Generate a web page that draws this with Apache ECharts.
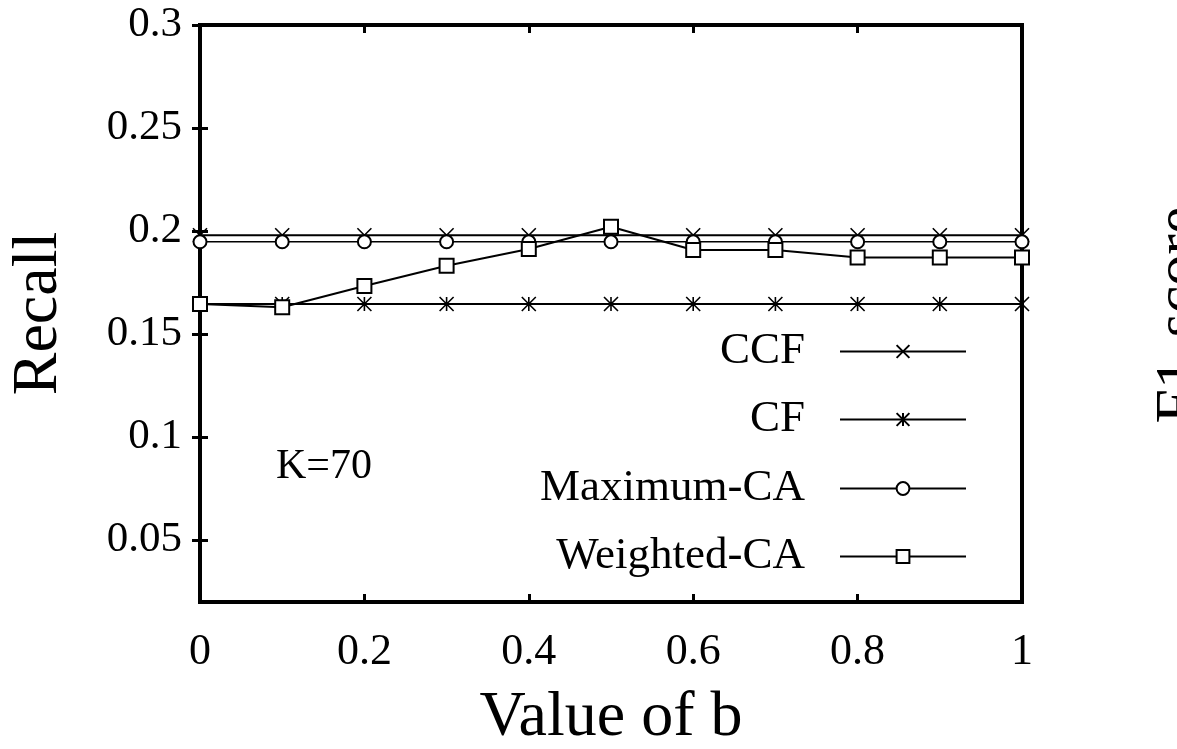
<!DOCTYPE html>
<html>
<head>
<meta charset="utf-8">
<script src="https://cdn.jsdelivr.net/npm/echarts@6/dist/echarts.min.js"></script>
<style>
  html, body { margin: 0; padding: 0; background: #fff; }
  #chart { width: 1177px; height: 749px; }
</style>
</head>
<body>
<div id="chart"></div>
<script>
// values
const bValues = [0, 0.1, 0.2, 0.3, 0.4, 0.5, 0.6, 0.7, 0.8, 0.9, 1];
const ccfRecall = [0.198, 0.198, 0.198, 0.198, 0.198, 0.198, 0.198, 0.198, 0.198, 0.198, 0.198];
const cfRecall = [0.1646, 0.1646, 0.1646, 0.1646, 0.1646, 0.1646, 0.1646, 0.1646, 0.1646, 0.1646, 0.1646];
const maxCaRecall = [0.1948, 0.1948, 0.1948, 0.1948, 0.1948, 0.1948, 0.1948, 0.1948, 0.1948, 0.1948, 0.1948];
const weightedCaRecall = [0.1646, 0.163, 0.1733, 0.1832, 0.1913, 0.2021, 0.1908, 0.1908, 0.1872, 0.1872, 0.1872];
const yTicks = [0.05, 0.1, 0.15, 0.2, 0.25, 0.3];
const xTicks = [0, 0.2, 0.4, 0.6, 0.8, 1];
const seriesNames = ['CCF', 'CF', 'Maximum-CA', 'Weighted-CA'];

const FONT = 'Liberation Serif';
const crossPath = 'path://M0,0L10,10M10,0L0,10';
const starPath = 'path://M0,0L10,10M10,0L0,10M5,0L5,10';

function pairs(ys) {
  return bValues.map((b, i) => [b, ys[i]]);
}

function lineSeries(name, ys, symbol, size, width) {
  return {
    name: name,
    type: 'line',
    data: pairs(ys),
    symbol: symbol,
    symbolSize: size,
    showSymbol: true,
    animation: false,
    lineStyle: { color: '#000', width: width },
    itemStyle: { color: '#000', borderColor: '#000', borderWidth: 1.6 },
    emphasis: { disabled: true }
  };
}

function legendFor(name, top) {
  return {
    data: [name],
    right: 205,
    top: top,
    align: 'right',
    itemWidth: 126,
    itemHeight: 16,
    selectedMode: false,
    textStyle: { fontFamily: FONT, fontSize: 45, color: '#000', padding: [0, 30, 0, 0] }
  };
}

const chart = echarts.init(document.getElementById('chart'));

const yBase = {
  type: 'value',
  min: 0.02,
  max: 0.3,
  splitLine: { show: false },
  axisLine: { show: false }
};
const xBase = {
  type: 'value',
  min: 0,
  max: 1,
  splitLine: { show: false },
  axisLine: { show: false }
};

chart.setOption({
  backgroundColor: '#fff',
  grid: {
    left: 200, right: 155, top: 25, bottom: 147,
    outerBoundsMode: 'none',
    show: true, borderColor: '#000', borderWidth: 4, backgroundColor: 'transparent'
  },
  xAxis: [
    Object.assign({}, xBase, {
      position: 'bottom',
      name: 'Value of b',
      nameLocation: 'middle',
      nameGap: 84,
      nameTextStyle: { fontFamily: FONT, fontSize: 64, color: '#000' },
      axisTick: { inside: true, length: 8, lineStyle: { width: 3, color: '#000' }, customValues: xTicks },
      axisLabel: { fontFamily: FONT, fontSize: 44, color: '#000', margin: 28, customValues: xTicks }
    }),
    Object.assign({}, xBase, {
      position: 'top',
      axisTick: { inside: true, length: 8, lineStyle: { width: 3, color: '#000' }, customValues: xTicks },
      axisLabel: { show: false }
    })
  ],
  yAxis: [
    Object.assign({}, yBase, {
      position: 'left',
      name: 'Recall',
      nameLocation: 'middle',
      nameGap: 129,
      nameTextStyle: { fontFamily: FONT, fontSize: 64, color: '#000' },
      axisTick: { inside: true, length: 8, lineStyle: { width: 3, color: '#000' }, customValues: yTicks },
      axisLabel: { fontFamily: FONT, fontSize: 43, color: '#000', margin: 18, customValues: yTicks }
    }),
    Object.assign({}, yBase, {
      position: 'right',
      axisTick: { inside: true, length: 8, lineStyle: { width: 3, color: '#000' }, customValues: yTicks },
      axisLabel: { show: false }
    })
  ],
  legend: [
    legendFor(seriesNames[0], 324),
    legendFor(seriesNames[1], 392),
    legendFor(seriesNames[2], 461),
    legendFor(seriesNames[3], 529)
  ],
  graphic: [
    {
      type: 'text', left: 276, top: 446,
      style: { text: 'K=70', fontFamily: FONT, fontSize: 42, fill: '#000' }
    },
    {
      type: 'text', x: 1150, y: 315, rotation: Math.PI / 2,
      style: { text: 'F1-score', fontFamily: FONT, fontSize: 62, fill: '#000', align: 'center', verticalAlign: 'top' }
    }
  ],
  series: [
    lineSeries(seriesNames[0], ccfRecall, crossPath, 14, 2),
    lineSeries(seriesNames[1], cfRecall, starPath, 14, 2),
    lineSeries(seriesNames[2], maxCaRecall, 'emptyCircle', 13, 1.5),
    lineSeries(seriesNames[3], weightedCaRecall, 'emptyRect', 14, 2)
  ]
});
</script>
</body>
</html>
